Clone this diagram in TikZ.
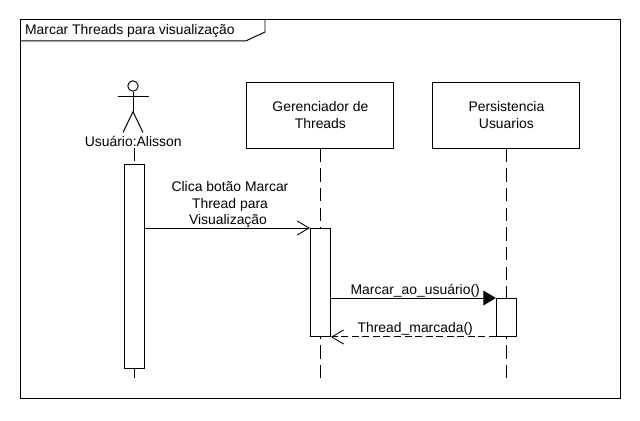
\documentclass[tikz,border=0pt]{standalone}
\usepackage{fontspec}
\setmainfont{Liberation Sans}
\usetikzlibrary{calc,arrows.meta,positioning}

\tikzset{
  label text/.style={font=\fontsize{9.9}{12.2}\selectfont,align=center,inner sep=0pt},
  lifebox/.style={draw,line width=0.7pt,fill=white,label text,minimum width=3.675cm,minimum height=1.65cm},
  activation/.style={draw,line width=0.7pt,fill=white,minimum width=0.5cm,inner sep=0pt},
  lifeline/.style={line width=0.7pt,dash pattern=on 9.5pt off 4.5pt},
  stick/.style={line width=0.7pt},
  call/.style={line width=0.7pt,-{Straight Barb[length=8.5pt,width=10pt,line width=0.6pt]}},
  callsync/.style={line width=0.7pt,-{Triangle[length=9pt,width=10.5pt]}},
  reply/.style={line width=0.7pt,dash pattern=on 5pt off 2.5pt,-{Straight Barb[length=8.5pt,width=10pt,line width=0.6pt]}}
}

\begin{document}
\begin{tikzpicture}[x=1cm,y=1cm]

  \useasboundingbox (0,0) rectangle (16.0,10.5);

  % Frame
  \node[draw,line width=0.7pt,anchor=south west,minimum width=14.99cm,minimum height=9.48cm,inner sep=0pt] (frame) at (0.5,0.525) {};
  \node[label text,anchor=west] (title) at ($(frame.north west)+(0.12,-0.3)$) {Marcar Threads para visualização};
  \draw[line width=0.7pt] ($(frame.north west)+(6.125,0.0)$) coordinate (tab-a) -- +(0.0,-0.33) coordinate (tab-b) -- ($(frame.north west)+(5.65,-0.55)$) coordinate (tab-c) -- (tab-c -| frame.west);

  % Actor
  \node[draw,circle,line width=0.7pt,minimum size=0.26cm,inner sep=0pt] (head) at (3.325,8.35) {};
  \coordinate (shoulder) at ($(head.south)+(0.0,-0.12)$);
  \coordinate (hip) at ($(head.south)+(0.0,-0.5)$);
  \draw[stick] (head.south) -- (hip);
  \draw[stick] ($(shoulder)+(-0.375,0.0)$) -- ($(shoulder)+(0.39,0.0)$);
  \draw[stick] ($(hip)+(-0.25,-0.52)$) -- (hip) -- ($(hip)+(0.25,-0.52)$);
  \node[label text] (user) at (3.33,6.96) {Usuário:Alisson};

  % Objects
  \node[lifebox] (manager) at (8.01,7.625) {Gerenciador de\\Threads};
  \node[lifebox] (persist) at (12.66,7.625) {Persistencia\\Usuarios};

  % Lifelines
  \coordinate (user-end) at (3.36,1.05);
  \coordinate (manager-end) at (8.01,1.05);
  \coordinate (persist-end) at (12.66,1.05);
  \draw[lifeline] (3.36,6.8) -- (user-end);
  \draw[lifeline] (manager.south) -- (manager-end);
  \draw[lifeline] (persist.south) -- (persist-end);

  % Activations
  \node[activation,anchor=north,minimum height=5.1cm] (user-bar) at (3.36,6.4) {};
  \node[activation,anchor=north,minimum height=2.7cm] (manager-bar) at (8.01,4.8) {};
  \node[activation,anchor=north,minimum height=0.95cm] (persist-bar) at (12.66,3.05) {};

  % Messages
  \draw[call] (user-bar.east |- manager-bar.north west) -- (manager-bar.north west);
  \draw[callsync] (manager-bar.east |- persist-bar.north west) -- (persist-bar.north west);
  \draw[reply] (persist-bar.south west) -- (manager-bar.south east);
  \node[label text,anchor=south,font=\fontsize{9.9}{11.9}\selectfont] (click) at (5.75,4.8) {Clica botão Marcar\\Thread para\hspace*{0.15cm}\\Visualização\hspace*{0.1cm}};
  \node[label text,anchor=south] (mark) at (10.38,3.05) {Marcar\_ao\_usuário()};
  \node[label text,anchor=south] (marked) at (10.38,2.1) {Thread\_marcada()};

\end{tikzpicture}
\end{document}
